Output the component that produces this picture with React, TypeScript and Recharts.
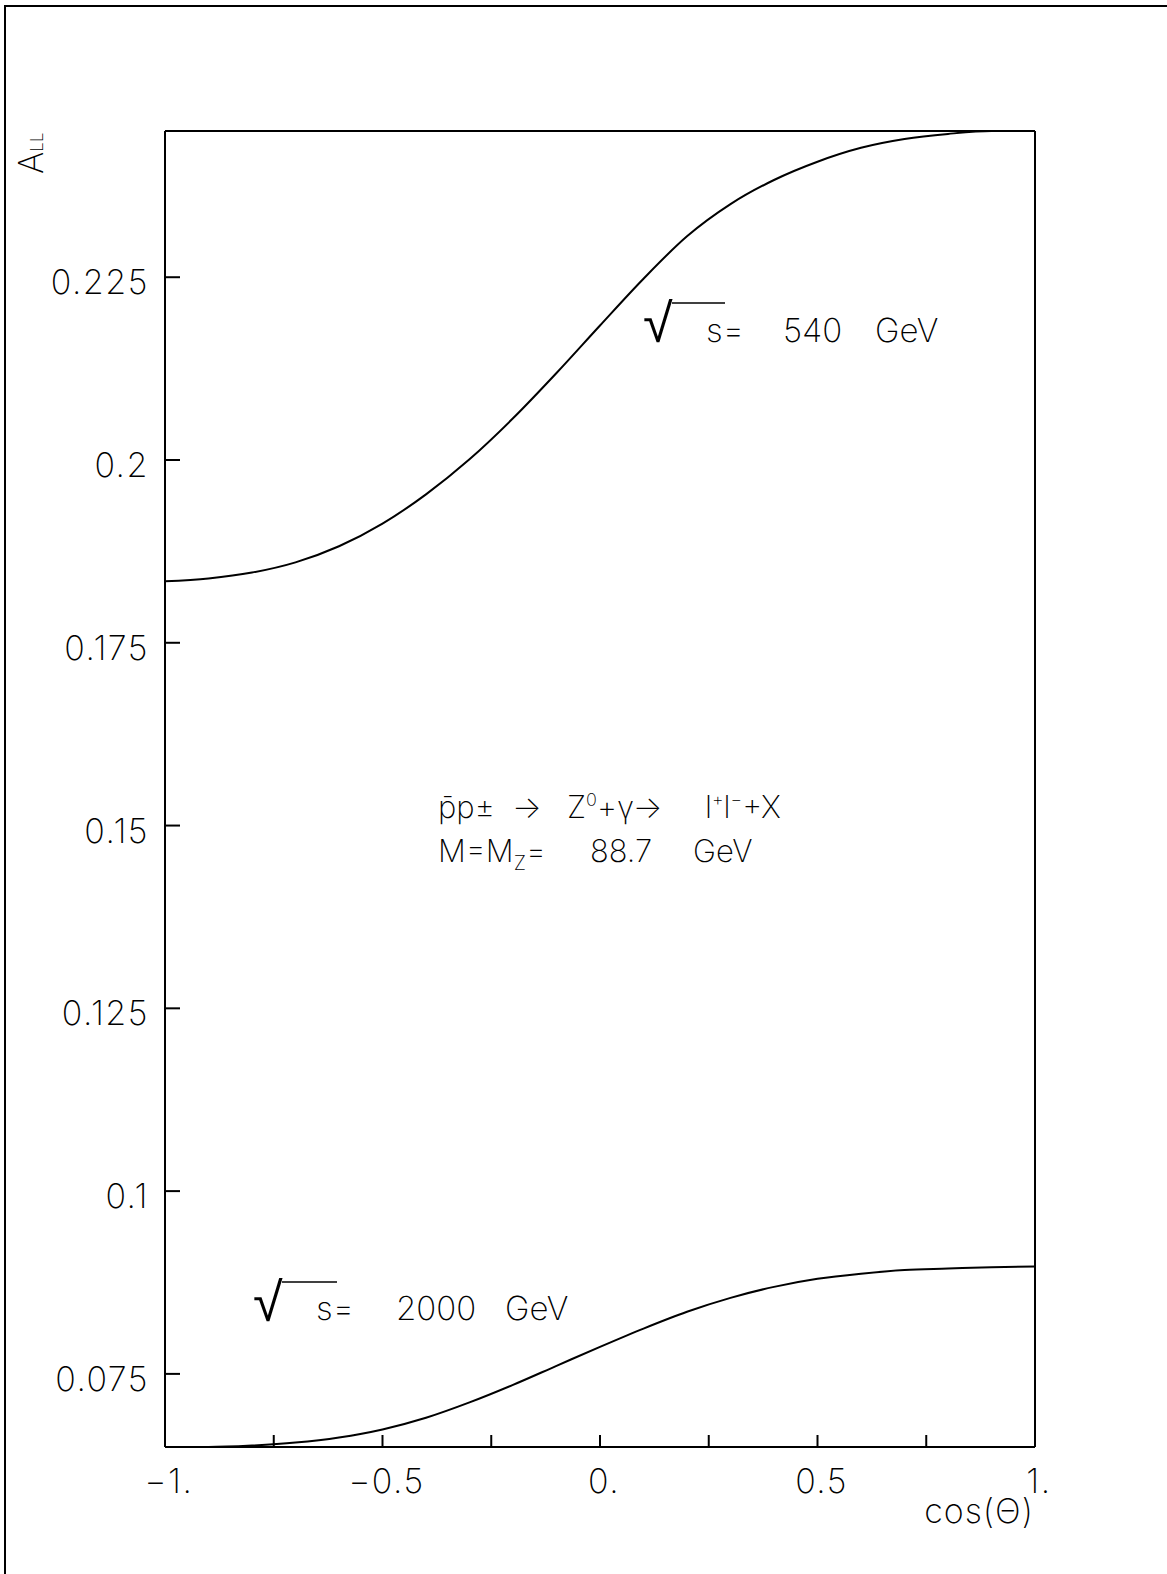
import React from 'react';
import { LineChart, Line, XAxis, YAxis, ReferenceLine } from 'recharts';

// cos(theta) sample points and A_LL
const cosTheta = [-1, -0.9, -0.8, -0.7, -0.6, -0.5, -0.4, -0.3, -0.2, -0.1, 0, 0.1, 0.2, 0.3, 0.4, 0.5, 0.6, 0.7, 0.8, 0.9, 1];
const all540 = [0.1834, 0.1838, 0.1846, 0.186, 0.1882, 0.1913, 0.1953, 0.2001, 0.2057, 0.2119, 0.2184, 0.2248, 0.2306, 0.235, 0.2383, 0.2408, 0.2427, 0.2439, 0.2446, 0.245, 0.245];
const all2000 = [0.065, 0.065, 0.0652, 0.0656, 0.0663, 0.0674, 0.069, 0.0711, 0.0735, 0.0761, 0.0787, 0.0812, 0.0835, 0.0854, 0.0869, 0.088, 0.0887, 0.0892, 0.0894, 0.0896, 0.0897];

const xTicks = [-1, -0.75, -0.5, -0.25, 0, 0.25, 0.5, 0.75, 1];
const xLabels: Record<string, string> = { '-1': '−1.', '-0.5': '−0.5', '0': '0.', '0.5': '0.5', '1': '1.' };
const yTicks = [0.075, 0.1, 0.125, 0.15, 0.175, 0.2, 0.225];
const yLabels: Record<string, string> = {
  '0.075': '0.075', '0.1': '0.1', '0.125': '0.125', '0.15': '0.15', '0.175': '0.175', '0.2': '0.2', '0.225': '0.225',
};

const data = cosTheta.map((c, i) => ({ c, s540: all540[i], s2000: all2000[i] }));

const W = 1167;
const H = 1574;
const FONT = 'Inter, "DejaVu Sans", sans-serif';

const YTick = (props: any) => {
  const { x, y, payload } = props;
  return (
    <g>
      <line x1={x} y1={y} x2={x + 15} y2={y} stroke="#000" strokeWidth={2} />
      <text x={x - 16} y={y + 17} textAnchor="end" fontFamily={FONT} fontWeight={200} fontSize={34} letterSpacing={1.5} fill="#000">
        {yLabels[String(payload.value)]}
      </text>
    </g>
  );
};

const XTick = (props: any) => {
  const { x, y, payload } = props;
  const label = xLabels[String(payload.value)];
  return (
    <g>
      <line x1={x} y1={y} x2={x} y2={y - 12} stroke="#000" strokeWidth={2} />
      {label && (
        <text x={x + 4} y={y + 46} textAnchor="middle" fontFamily={FONT} fontWeight={200} fontSize={34} letterSpacing={1.5} fill="#000">
          {label}
        </text>
      )}
    </g>
  );
};

export default function App() {
  return (
    <div style={{ position: 'absolute', left: 0, top: 0, width: W, height: H, background: '#fff', overflow: 'hidden' }}>
      {/* scanned page frame */}
      <div style={{ position: 'absolute', left: 4, top: 5, width: W, height: H, borderTop: '2px solid #000', borderLeft: '2px solid #000' }} />
      <LineChart width={W} height={H} data={data} margin={{ top: 131, right: 132, bottom: 97, left: 105 }}>
        <XAxis
          dataKey="c"
          type="number"
          domain={[-1, 1]}
          ticks={xTicks}
          height={30}
          tickSize={0}
          tickMargin={0}
          tickLine={false}
          tick={<XTick />}
          axisLine={{ stroke: '#000', strokeWidth: 2 }}
          interval={0}
        />
        <YAxis
          type="number"
          domain={[0.065, 0.245]}
          ticks={yTicks}
          width={60}
          tickSize={0}
          tickMargin={0}
          tickLine={false}
          tick={<YTick />}
          axisLine={{ stroke: '#000', strokeWidth: 2 }}
          allowDataOverflow
          interval={0}
        />
        <ReferenceLine y={0.245} stroke="#000" strokeWidth={2} />
        <ReferenceLine x={1} stroke="#000" strokeWidth={2} />
        <Line dataKey="s540" type="monotone" stroke="#000" strokeWidth={2} dot={false} isAnimationActive={false} />
        <Line dataKey="s2000" type="monotone" stroke="#000" strokeWidth={2} dot={false} isAnimationActive={false} />
      </LineChart>
      <svg width={W} height={H} style={{ position: 'absolute', left: 0, top: 0, pointerEvents: 'none' }}>
        <g fontFamily={FONT} fontWeight={200} fill="#000">
          {/* y axis title */}
          <text transform="translate(43,174) rotate(-90)" fontSize={34}>
            A<tspan fontSize={17}>LL</tspan>
          </text>
          {/* x axis title */}
          <text x={1034} y={1523} textAnchor="end" fontSize={34} letterSpacing={1}>cos(Θ)</text>

          {/* sqrt(s) = 540 GeV */}
          <text x={643} y={342} fontSize={54} fontFamily='"DejaVu Sans", sans-serif' fontWeight={200}>√</text>
          <line x1={672} y1={303} x2={725} y2={303} stroke="#000" strokeWidth={1.5} />
          <text y={342} fontSize={33}>
            <tspan x={706}>s=</tspan>
            <tspan x={783}>540</tspan>
            <tspan x={875}>GeV</tspan>
          </text>

          {/* sqrt(s) = 2000 GeV */}
          <text x={253} y={1321} fontSize={54} fontFamily='"DejaVu Sans", sans-serif' fontWeight={200}>√</text>
          <line x1={282} y1={1282} x2={337} y2={1282} stroke="#000" strokeWidth={1.5} />
          <text y={1320} fontSize={33}>
            <tspan x={316}>s=</tspan>
            <tspan x={396}>2000</tspan>
            <tspan x={505}>GeV</tspan>
          </text>

          {/* process */}
          <text y={818} fontSize={31}>
            <tspan x={438}>p̄p±</tspan>
            <tspan x={512}>→</tspan>
            <tspan x={567}>Z</tspan>
            <tspan dy={-12} fontSize={18}>0</tspan>
            <tspan dy={12}>+γ→</tspan>
            <tspan x={705}>l</tspan>
            <tspan dy={-12} fontSize={18}>+</tspan>
            <tspan dy={12}>l</tspan>
            <tspan dy={-12} fontSize={18}>−</tspan>
            <tspan dy={12}>+X</tspan>
          </text>
          <text y={862} fontSize={31}>
            <tspan x={438}>M=M</tspan>
            <tspan dy={8} fontSize={20}>Z</tspan>
            <tspan dy={-8}>=</tspan>
            <tspan x={590}>88.7</tspan>
            <tspan x={693}>GeV</tspan>
          </text>
        </g>
      </svg>
    </div>
  );
}
